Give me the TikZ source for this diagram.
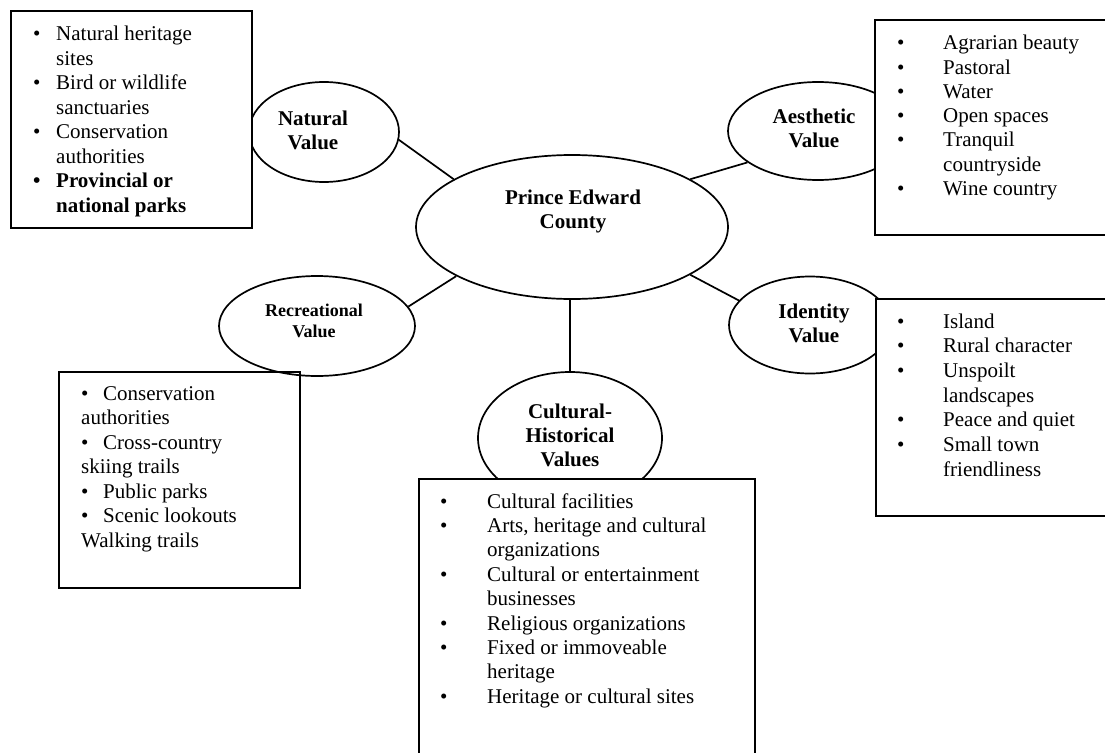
\documentclass[tikz,border=0pt]{standalone}
\usepackage{fontspec}
\setmainfont{Liberation Serif}
\usetikzlibrary{shapes.geometric}
\newcommand{\bitem}[2]{\makebox[#1][l]{\textbullet}#2}
\tikzset{
  oval/.style={ellipse, draw, line width=1.7pt, inner sep=0pt},
  box/.style={rectangle, draw, fill=white, line width=1.7pt, anchor=north west, inner sep=0pt},
  conn/.style={line width=1.7pt},
  txt/.style={anchor=base west, inner sep=0pt, align=left, font=\fontsize{21}{24.5}\selectfont},
  ctxt/.style={anchor=base, inner sep=0pt, font=\bfseries\fontsize{21}{24}\selectfont},
}
\begin{document}
\begin{tikzpicture}[x=1pt,y=-1pt]
\clip (0,0) rectangle (1105,752);
\fill[white] (0,0) rectangle (1105,752);
% recreational box (under its ellipse)
\node[box, minimum width=241pt, minimum height=216pt] (recbox) at (58,371) {};
% ellipses
\node[oval, minimum width=150pt, minimum height=100pt] (nat) at (324,132) {};
\node[oval, minimum width=180pt, minimum height=98pt] (aes) at (818,131) {};
\node[oval, minimum width=312pt, minimum height=144pt] (pec) at (572,227) {};
\node[oval, minimum width=196pt, minimum height=100pt] (rec) at (317,326) {};
\node[oval, minimum width=162pt, minimum height=97pt] (ide) at (810,325) {};
\node[oval, minimum width=184pt, minimum height=132pt] (cul) at (570,438) {};
% connectors
\draw[conn] (nat.-6) -- (pec.158);
\draw[conn] (aes.-156) -- (pec.22);
\draw[conn] (rec.12) -- (pec.-157);
\draw[conn] (ide.161) -- (pec.-22);
\draw[conn] (cul.north) -- (cul.north |- pec.south);
% boxes on top
\node[box, minimum width=241pt, minimum height=217pt] (natbox) at (10,10) {};
\node[box, minimum width=260pt, minimum height=215pt] (aesbox) at (874,19) {};
\node[box, minimum width=260pt, minimum height=217pt] (idebox) at (875,298) {};
\node[box, minimum width=336pt, minimum height=300pt] (culbox) at (418,478) {};
% ellipse labels
\node[ctxt] (natlbl) at (313,125) {\begin{tabular}[t]{@{}c@{}}Natural\\Value\end{tabular}};
\node[ctxt] (aeslbl) at (814,123) {\begin{tabular}[t]{@{}c@{}}Aesthetic\\Value\end{tabular}};
\node[ctxt] (peclbl) at (573,204) {\begin{tabular}[t]{@{}c@{}}Prince Edward\\County\end{tabular}};
\node[ctxt, font=\bfseries\fontsize{18}{21}\selectfont] (reclbl) at (314,316) {\begin{tabular}[t]{@{}c@{}}Recreational\\Value\end{tabular}};
\node[ctxt] (idelbl) at (814,318) {\begin{tabular}[t]{@{}c@{}}Identity\\Value\end{tabular}};
\node[ctxt] (cullbl) at (570,418) {\begin{tabular}[t]{@{}c@{}}Cultural-\\Historical\\Values\end{tabular}};
% box texts
\node[txt] (nattxt) at (33,41) {\begin{tabular}[t]{@{}l@{}}
\bitem{23pt}{Natural heritage}\\
\hspace*{23pt}sites\\
\bitem{23pt}{Bird or wildlife}\\
\hspace*{23pt}sanctuaries\\
\bitem{23pt}{Conservation}\\
\hspace*{23pt}authorities\\
\textbf{\bitem{23pt}{Provincial or}}\\
\textbf{\hspace*{23pt}national parks}
\end{tabular}};
\node[txt, font=\fontsize{21}{24.2}\selectfont] (aestxt) at (897,50) {\begin{tabular}[t]{@{}l@{}}
\bitem{46pt}{Agrarian beauty}\\
\bitem{46pt}{Pastoral}\\
\bitem{46pt}{Water}\\
\bitem{46pt}{Open spaces}\\
\bitem{46pt}{Tranquil}\\
\hspace*{46pt}countryside\\
\bitem{46pt}{Wine country}
\end{tabular}};
\node[txt, font=\fontsize{21}{24.7}\selectfont] (idetxt) at (897,328) {\begin{tabular}[t]{@{}l@{}}
\bitem{46pt}{Island}\\
\bitem{46pt}{Rural character}\\
\bitem{46pt}{Unspoilt}\\
\hspace*{46pt}landscapes\\
\bitem{46pt}{Peace and quiet}\\
\bitem{46pt}{Small town}\\
\hspace*{46pt}friendliness
\end{tabular}};
\node[txt] (rectxt) at (81,400) {\begin{tabular}[t]{@{}l@{}}
\bitem{22pt}{Conservation}\\
authorities\\
\bitem{22pt}{Cross-country}\\
skiing trails\\
\bitem{22pt}{Public parks}\\
\bitem{22pt}{Scenic lookouts}\\
Walking trails
\end{tabular}};
\node[txt, font=\fontsize{21}{24.4}\selectfont] (cultxt) at (440,508) {\begin{tabular}[t]{@{}l@{}}
\bitem{47pt}{Cultural facilities}\\
\bitem{47pt}{Arts, heritage and cultural}\\
\hspace*{47pt}organizations\\
\bitem{47pt}{Cultural or entertainment}\\
\hspace*{47pt}businesses\\
\bitem{47pt}{Religious organizations}\\
\bitem{47pt}{Fixed or immoveable}\\
\hspace*{47pt}heritage\\
\bitem{47pt}{Heritage or cultural sites}
\end{tabular}};
\end{tikzpicture}
\end{document}
